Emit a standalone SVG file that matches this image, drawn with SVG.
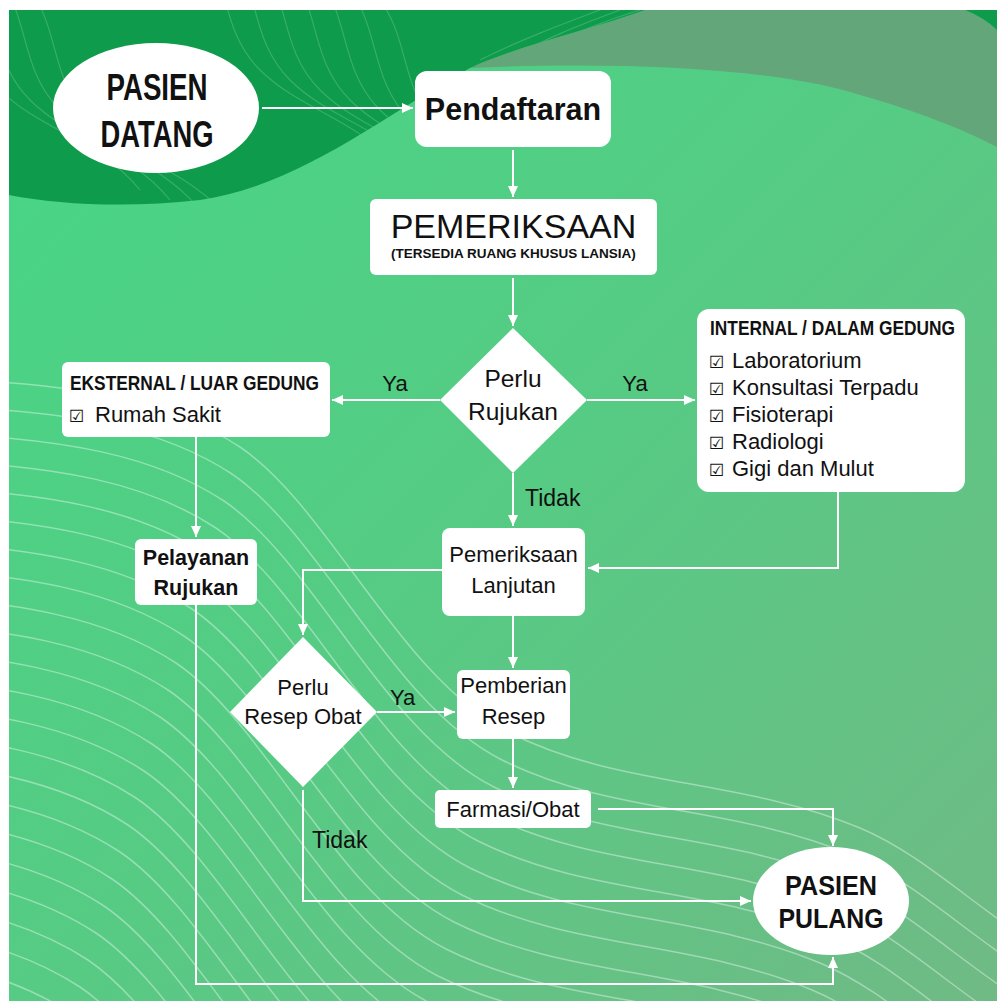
<svg xmlns="http://www.w3.org/2000/svg" xmlns:xlink="http://www.w3.org/1999/xlink" width="997" height="1001" viewBox="0 0 997 1001">
<style>
.box{fill:#fff}
.t{font-family:"Liberation Sans",Arial,sans-serif;fill:#111}
.c{text-anchor:middle}
.b{font-weight:bold}
.ck{font-family:"DejaVu Sans",sans-serif;fill:#111;font-size:17px;font-weight:bold}
.conn{fill:none;stroke:#fff;stroke-width:2}
.wave{fill:none;stroke:#fff;stroke-opacity:0.38;stroke-width:1.5}
.dwave{fill:none;stroke:#fff;stroke-opacity:0.18;stroke-width:1.2}
</style>
<defs>
<linearGradient id="bg" x1="0" y1="0" x2="1" y2="1">
<stop offset="0" stop-color="#46d686"/>
<stop offset="0.5" stop-color="#56cb84"/>
<stop offset="1" stop-color="#70ba85"/>
</linearGradient>
<clipPath id="area"><rect x="9" y="10" width="988" height="991"/></clipPath>
<clipPath id="darkclip"><path d="M9,10 H645 C590,30 520,45 470,68 C380,118 300,185 200,200 C130,208 60,205 9,195 Z"/></clipPath>
<path id="w" d="M-40,-3 C80,2 170,18 240,64 C330,125 400,295 510,350 C620,405 740,395 860,445 C920,470 970,520 1040,565"/>
<path id="dw" d="M0,0 C30,40 20,90 60,130 C100,170 160,180 200,230"/>
<marker id="ah" markerUnits="userSpaceOnUse" markerWidth="11" markerHeight="10" refX="11" refY="5" orient="auto">
<path d="M0,0 L11,5 L0,10 Z" fill="#fff"/>
</marker>
</defs>

<g id="background">
<rect x="9" y="10" width="988" height="991" fill="url(#bg)"/>
<path d="M645,10 L965,10 Q985,18 997,30 L997,147 C960,128 920,112 850,92 C760,66 600,62 470,68 C520,45 590,30 645,10 Z" fill="#63a67a"/>
<path d="M9,10 H645 C590,30 520,45 470,68 C380,118 300,185 200,200 C130,208 60,205 9,195 Z" fill="#0e9b4b"/>
<path d="M965,10 L997,10 L997,30 Q985,18 965,10 Z" fill="#0e9b4b"/>
<g clip-path="url(#darkclip)">
<use xlink:href="#dw" class="dwave" transform="translate(-60,-40)"/>
<use xlink:href="#dw" class="dwave" transform="translate(-30,-30)"/>
<use xlink:href="#dw" class="dwave" transform="translate(0,-20)"/>
<use xlink:href="#dw" class="dwave" transform="translate(30,-10)"/>
<use xlink:href="#dw" class="dwave" transform="translate(200,-60)"/>
<use xlink:href="#dw" class="dwave" transform="translate(230,-50)"/>
<use xlink:href="#dw" class="dwave" transform="translate(260,-40)"/>
<use xlink:href="#dw" class="dwave" transform="translate(290,-30)"/>
<use xlink:href="#dw" class="dwave" transform="translate(320,-20)"/>
<use xlink:href="#dw" class="dwave" transform="translate(350,-10)"/>
<use xlink:href="#dw" class="dwave" transform="translate(380,0)"/>
<path class="dwave" d="M480,60 C520,40 560,25 600,10 M510,60 C540,40 580,25 620,10 M540,50 C570,35 600,22 640,10"/>
</g>
<g clip-path="url(#area)">
<use xlink:href="#w" class="wave" transform="translate(0,383)"/>
<use xlink:href="#w" class="wave" transform="translate(-8,410)"/>
<use xlink:href="#w" class="wave" transform="translate(-16,437)"/>
<use xlink:href="#w" class="wave" transform="translate(-24,464)"/>
<use xlink:href="#w" class="wave" transform="translate(-32,491)"/>
<use xlink:href="#w" class="wave" transform="translate(-40,518)"/>
<use xlink:href="#w" class="wave" transform="translate(-48,545)"/>
<use xlink:href="#w" class="wave" transform="translate(-56,572)"/>
<use xlink:href="#w" class="wave" transform="translate(-64,599)"/>
<use xlink:href="#w" class="wave" transform="translate(-72,626)"/>
<use xlink:href="#w" class="wave" transform="translate(-80,653)"/>
<use xlink:href="#w" class="wave" transform="translate(-88,680)"/>
<use xlink:href="#w" class="wave" transform="translate(-96,707)"/>
<use xlink:href="#w" class="wave" transform="translate(-104,734)"/>
<use xlink:href="#w" class="wave" transform="translate(-112,761)"/>
<use xlink:href="#w" class="wave" transform="translate(-120,788)"/>
<use xlink:href="#w" class="wave" transform="translate(-128,815)"/>
<use xlink:href="#w" class="wave" transform="translate(-136,842)"/>
<use xlink:href="#w" class="wave" transform="translate(-144,869)"/>
<use xlink:href="#w" class="wave" transform="translate(-152,896)"/>
<use xlink:href="#w" class="wave" transform="translate(-160,923)"/>
<use xlink:href="#w" class="wave" transform="translate(-168,950)"/>
<use xlink:href="#w" class="wave" transform="translate(-176,977)"/>
</g>
</g>

<g id="connectors">
<path class="conn" d="M262,108 H413" marker-end="url(#ah)"/>
<path class="conn" d="M513,150 V197" marker-end="url(#ah)"/>
<path class="conn" d="M513,278 V326" marker-end="url(#ah)"/>
<path class="conn" d="M440,400 H332" marker-end="url(#ah)"/>
<path class="conn" d="M587,400 H695" marker-end="url(#ah)"/>
<path class="conn" d="M513,473 V526" marker-end="url(#ah)"/>
<path class="conn" d="M838,492 V568 H588" marker-end="url(#ah)"/>
<path class="conn" d="M196,437 V537" marker-end="url(#ah)"/>
<path class="conn" d="M442,570 H303 V635" marker-end="url(#ah)"/>
<path class="conn" d="M513,616 V668" marker-end="url(#ah)"/>
<path class="conn" d="M377,712 H455" marker-end="url(#ah)"/>
<path class="conn" d="M513,739 V788" marker-end="url(#ah)"/>
<path class="conn" d="M598,809 H833 V846" marker-end="url(#ah)"/>
<path class="conn" d="M303,790 V901 H751" marker-end="url(#ah)"/>
<path class="conn" d="M196,605 V984 H833 V957" marker-end="url(#ah)"/>
<text class="t c" x="395" y="391" font-size="22">Ya</text>
<text class="t c" x="635" y="391" font-size="22">Ya</text>
<text class="t" x="525" y="506" font-size="23">Tidak</text>
<text class="t" x="390" y="705" font-size="22">Ya</text>
<text class="t" x="312" y="848" font-size="23">Tidak</text>
</g>

<g id="pasien-datang">
<ellipse cx="156" cy="108" rx="103" ry="65" class="box"/>
<text class="t c b" x="157" y="100" font-size="37" textLength="101" lengthAdjust="spacingAndGlyphs">PASIEN</text>
<text class="t c b" x="157" y="147" font-size="37" textLength="113" lengthAdjust="spacingAndGlyphs">DATANG</text>
</g>

<g id="pendaftaran">
<rect x="415" y="71" width="196" height="76" rx="12" class="box"/>
<text class="t c b" x="513" y="120" font-size="30.5">Pendaftaran</text>
</g>

<g id="pemeriksaan">
<rect x="370" y="199" width="287" height="76" rx="6" class="box"/>
<text class="t c" x="513.5" y="238" font-size="34">PEMERIKSAAN</text>
<text class="t c b" x="513.5" y="258" font-size="13.5">(TERSEDIA RUANG KHUSUS LANSIA)</text>
</g>

<g id="perlu-rujukan">
<path d="M513,328 L587,400 L513,473 L440,400 Z" class="box"/>
<text class="t c" x="513" y="387" font-size="24.5">Perlu</text>
<text class="t c" x="513" y="420" font-size="24.5">Rujukan</text>
</g>

<g id="eksternal">
<rect x="62" y="362" width="268" height="75" rx="6" class="box"/>
<text class="t b" x="70" y="390" font-size="20" textLength="249" lengthAdjust="spacingAndGlyphs">EKSTERNAL / LUAR GEDUNG</text>
<text class="ck" x="69" y="422">☑</text>
<text class="t" x="95" y="422" font-size="22">Rumah Sakit</text>
</g>

<g id="internal">
<rect x="697" y="309" width="268" height="183" rx="12" class="box"/>
<text class="t b" x="710" y="335" font-size="20" textLength="245" lengthAdjust="spacingAndGlyphs">INTERNAL / DALAM GEDUNG</text>
<text class="ck" x="709" y="368">☑</text>
<text class="t" x="732" y="368" font-size="22">Laboratorium</text>
<text class="ck" x="709" y="395">☑</text>
<text class="t" x="732" y="395" font-size="22">Konsultasi Terpadu</text>
<text class="ck" x="709" y="422">☑</text>
<text class="t" x="732" y="422" font-size="22">Fisioterapi</text>
<text class="ck" x="709" y="449">☑</text>
<text class="t" x="732" y="449" font-size="22">Radiologi</text>
<text class="ck" x="709" y="476">☑</text>
<text class="t" x="732" y="476" font-size="22">Gigi dan Mulut</text>
</g>

<g id="pemeriksaan-lanjutan">
<rect x="442" y="528" width="143" height="88" rx="8" class="box"/>
<text class="t c" x="513.5" y="562" font-size="22">Pemeriksaan</text>
<text class="t c" x="513.5" y="593" font-size="22">Lanjutan</text>
</g>

<g id="pelayanan-rujukan">
<rect x="135" y="539" width="122" height="66" rx="6" class="box"/>
<text class="t c b" x="196" y="565" font-size="21.5">Pelayanan</text>
<text class="t c b" x="196" y="595" font-size="21.5">Rujukan</text>
</g>

<g id="perlu-resep-obat">
<path d="M303,637 L377,712 L303,787 L230,712 Z" class="box"/>
<text class="t c" x="303" y="695" font-size="22">Perlu</text>
<text class="t c" x="303" y="724" font-size="22">Resep Obat</text>
</g>

<g id="pemberian-resep">
<rect x="457" y="670" width="113" height="69" rx="6" class="box"/>
<text class="t c" x="513.5" y="693" font-size="22">Pemberian</text>
<text class="t c" x="513.5" y="724" font-size="22">Resep</text>
</g>

<g id="farmasi">
<rect x="435" y="790" width="156" height="38" rx="5" class="box"/>
<text class="t c" x="513" y="817" font-size="22">Farmasi/Obat</text>
</g>

<g id="pasien-pulang">
<ellipse cx="831" cy="901" rx="78" ry="54" class="box"/>
<text class="t c b" x="831" y="895" font-size="28" textLength="92" lengthAdjust="spacingAndGlyphs">PASIEN</text>
<text class="t c b" x="831" y="928" font-size="28" textLength="105" lengthAdjust="spacingAndGlyphs">PULANG</text>
</g>
</svg>
